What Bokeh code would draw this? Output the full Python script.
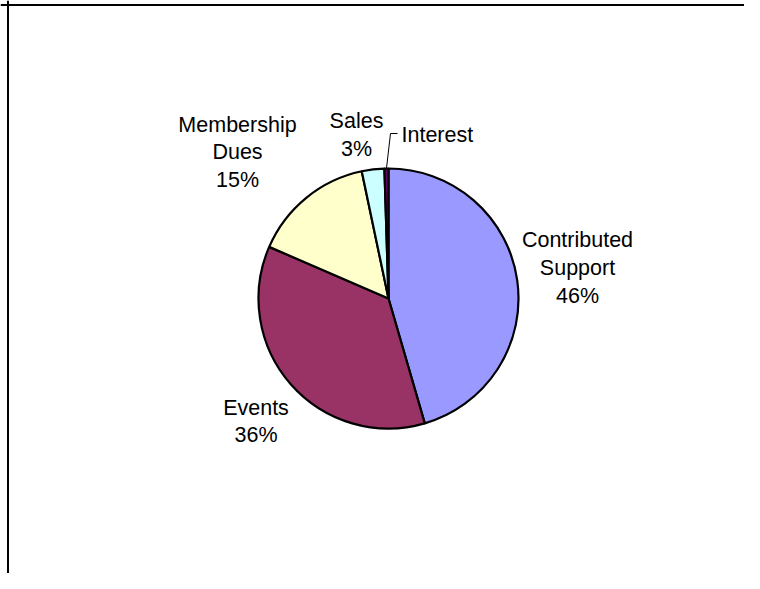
import math
from bokeh.plotting import figure
from bokeh.models import Range1d, Span, ColumnDataSource
from bokeh.core.properties import value
from bokeh.embed import file_html
from bokeh.resources import INLINE

# ---- data ----
categories = ["Contributed Support", "Events", "Membership Dues", "Sales", "Interest"]
shares = [45.5, 36.0, 15.2, 2.8, 0.5]
label_text = ["Contributed\nSupport", "Events", "Membership\nDues", "Sales", "Interest"]
show_pct = [True, True, True, True, False]
colors = ["#9999FF", "#993366", "#FFFFCC", "#CCFFFF", "#660066"]

# ---- layout (page pixel space, y measured upward from bottom of window) ----
W, H = 744, 573
X0, Y0 = 0, 589 - H
CX, CY, R = 388, 291, 130
label_pos = [(577, 321.5), (255.5, 168), (237, 437), (356, 454.5), (401, 455)]
label_align = ["center", "center", "center", "center", "left"]

total = sum(shares)
starts, ends = [], []
cum = 0.0
for s in shares:
    starts.append(math.pi / 2 - cum / total * 2 * math.pi)
    cum += s
    ends.append(math.pi / 2 - cum / total * 2 * math.pi)

p = figure(width=W, height=H, output_backend="svg", toolbar_location=None,
           x_range=Range1d(X0, X0 + W), y_range=Range1d(Y0, Y0 + H),
           min_border=0, outline_line_color=None, background_fill_color="white")
p.axis.visible = False
p.grid.visible = False

src = ColumnDataSource(dict(cat=categories, start=starts, end=ends, color=colors))
p.wedge(x=CX, y=CY, radius=R, start_angle="start", end_angle="end", direction="clock",
        fill_color="color", line_color="black", line_width=2.2, source=src)

texts = []
for lt, s, sp in zip(label_text, shares, show_pct):
    texts.append(f"{lt}\n{round(s / total * 100):d}%" if sp else lt)

lsrc = ColumnDataSource(dict(x=[q[0] for q in label_pos], y=[q[1] for q in label_pos],
                             t=texts, a=label_align))
p.text(x="x", y="y", text="t", text_align="a", text_baseline="middle",
       text_font=value("Liberation Sans"), text_font_size="21.5px", text_color="black",
       text_line_height=1.15, source=lsrc)

# leader line for the tiny slice
mid = (starts[-1] + ends[-1]) / 2
ex, ey = CX + R * math.cos(mid), CY + R * math.sin(mid)
p.line(x=[ex, 390, 397], y=[ey, 456, 456], line_color="black", line_width=1)

# chart border (top and left visible; it runs past the window on the right and bottom)
p.add_layout(Span(location=584.5, dimension="width", line_color="black", line_width=2))
p.add_layout(Span(location=7.5, dimension="height", line_color="black", line_width=2))

open("out.html", "w").write(file_html(p, INLINE))
